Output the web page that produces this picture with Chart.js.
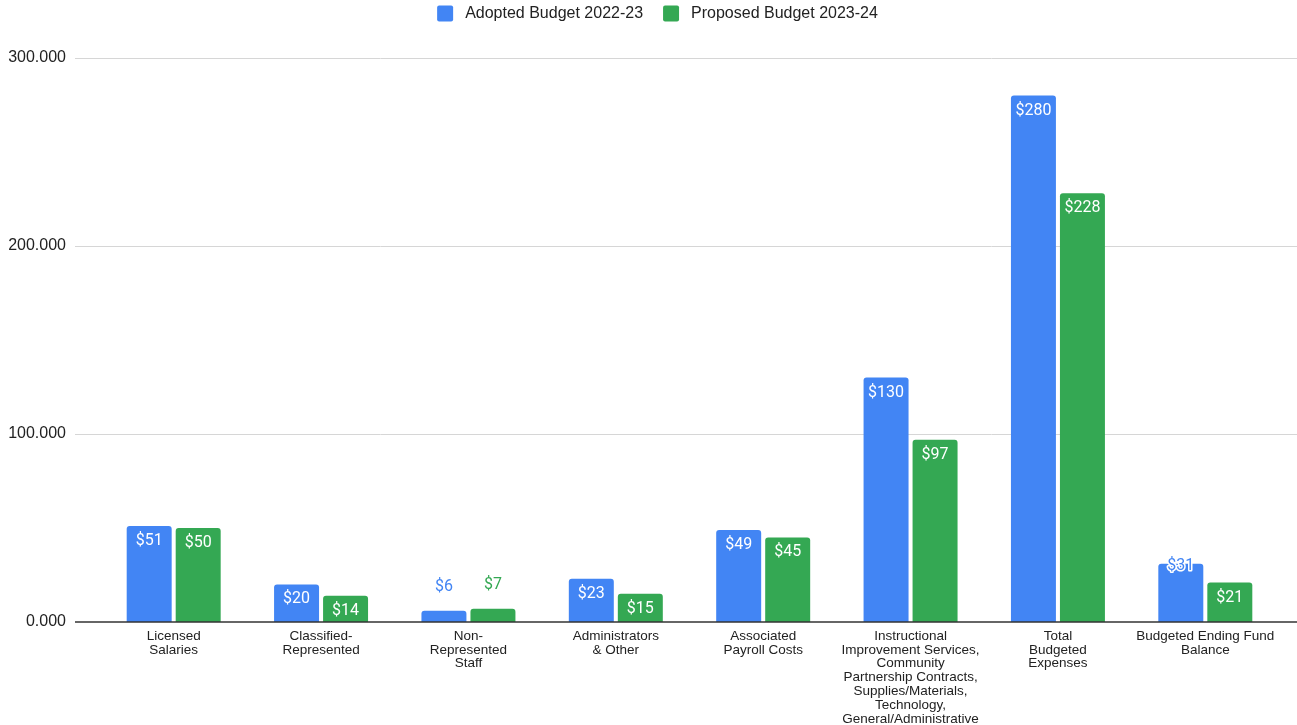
<!DOCTYPE html>
<html><head><meta charset="utf-8">
<script src="https://cdn.jsdelivr.net/npm/chart.js@4.4.0/dist/chart.umd.min.js"></script>
<style>html,body{margin:0;padding:0;background:#fff;} #wrap{width:1297px;height:725px;position:relative;}</style>
</head><body><div id="wrap"><canvas id="c"></canvas></div>
<script>
const categories = [["Licensed","Salaries"],["Classified-","Represented"],["Non-","Represented","Staff"],["Administrators","& Other"],["Associated","Payroll Costs"],["Instructional","Improvement Services,","Community","Partnership Contracts,","Supplies/Materials,","Technology,","General/Administrative"],["Total","Budgeted","Expenses"],["Budgeted Ending Fund","Balance"]];
const seriesNames = ["Adopted Budget 2022-23","Proposed Budget 2023-24"];
const adopted = [51,20,6,23,49,130,280,31];
const proposed = [50,14,7,15,45,97,228,21];
const yTickValues = [0,100,200,300];
const yTickLabels = ["0.000","100.000","200.000","300.000"];
const colors = ["#4285F4","#34A853"];
const outlinedLabels = [[0,7]];

const AX_FONT = "'Liberation Sans', Arial, sans-serif";
const LBL_FONT = "Roboto, 'Liberation Sans', sans-serif";

const gridPlugin = {
  id: 'gridPlugin',
  beforeDatasetsDraw(chart) {
    const ctx = chart.ctx, ys = chart.scales.y;
    ctx.save();
    ctx.strokeStyle = '#d6d6d6'; ctx.lineWidth = 1;
    yTickValues.forEach(v => {
      if (v === 0) return;
      const y = Math.round(ys.getPixelForValue(v)) + 0.5;
      ctx.beginPath(); ctx.moveTo(75, y); ctx.lineTo(chart.width, y); ctx.stroke();
    });
    ctx.restore();
  },
  afterDatasetsDraw(chart) {
    const ctx = chart.ctx, ys = chart.scales.y;
    ctx.save();
    const y0 = ys.getPixelForValue(0);
    ctx.strokeStyle = '#333'; ctx.lineWidth = 1.5;
    ctx.beginPath(); ctx.moveTo(75, y0); ctx.lineTo(chart.width, y0); ctx.stroke();
    ctx.font = "16px " + LBL_FONT;
    ctx.textAlign = 'center'; ctx.textBaseline = 'middle';
    chart.data.datasets.forEach((ds, di) => {
      const meta = chart.getDatasetMeta(di);
      meta.data.forEach((bar, i) => {
        const txt = '$' + ds.data[i];
        const h = bar.base - bar.y;
        const outlined = outlinedLabels.some(p => p[0] === di && p[1] === i);
        if (outlined) {
          ctx.lineWidth = 3; ctx.strokeStyle = '#fff'; ctx.lineJoin = 'round';
          ctx.strokeText(txt, bar.x, bar.y + 2);
          ctx.fillStyle = colors[di];
          ctx.fillText(txt, bar.x, bar.y + 2);
        } else if (h < 22) {
          ctx.fillStyle = colors[di];
          ctx.fillText(txt, bar.x, bar.y - 24);
        } else {
          ctx.fillStyle = '#fff';
          ctx.fillText(txt, bar.x, bar.y + 15);
        }
      });
    });
    ctx.restore();
  },
  afterDraw(chart) {
    const ctx = chart.ctx;
    ctx.save();
    ctx.font = "16px " + AX_FONT;
    ctx.textBaseline = 'middle'; ctx.textAlign = 'left';
    const box = 16, gap = 12, sep = 20;
    const widths = seriesNames.map(n => ctx.measureText(n).width);
    const total = widths.reduce((a, w) => a + box + gap + w, 0) + sep * (seriesNames.length - 1);
    let x = 657.5 - total / 2;
    const yc = 13.5;
    seriesNames.forEach((n, i) => {
      ctx.fillStyle = colors[i];
      ctx.beginPath();
      ctx.roundRect(x, yc - 8, box, box, 2);
      ctx.fill();
      ctx.fillStyle = '#222';
      ctx.fillText(n, x + box + gap, yc);
      x += box + gap + widths[i] + sep;
    });
    ctx.restore();
  }
};

new Chart(document.getElementById('c'), {
  type: 'bar',
  data: {
    labels: categories,
    datasets: [
      { label: seriesNames[0], data: adopted, backgroundColor: colors[0] },
      { label: seriesNames[1], data: proposed, backgroundColor: colors[1] }
    ]
  },
  options: {
    responsive: true, maintainAspectRatio: false, animation: false,
    layout: { padding: { top: 58, right: 18, left: 0, bottom: 0 } },
    datasets: { bar: { categoryPercentage: 0.665, barPercentage: 0.918, borderRadius: { topLeft: 3, topRight: 3 }, borderSkipped: 'start' } },
    plugins: { legend: { display: false }, tooltip: { enabled: false } },
    scales: {
      x: {
        grid: { display: false, drawTicks: false }, border: { display: false },
        ticks: { autoSkip: false, maxRotation: 0, minRotation: 0, padding: 7, color: '#222', font: { family: AX_FONT, size: 13.5, lineHeight: 1.03 } },
        afterFit(s) { s.height = 103; }
      },
      y: {
        min: 0, max: 300,
        grid: { display: false, drawTicks: false }, border: { display: false },
        ticks: { stepSize: 100, padding: 34, color: '#222', font: { family: AX_FONT, size: 16 },
          callback(v) { const i = yTickValues.indexOf(v); return i >= 0 ? yTickLabels[i] : ''; } },
        afterFit(s) { s.width = 100; }
      }
    }
  },
  plugins: [gridPlugin]
});
</script></body></html>
